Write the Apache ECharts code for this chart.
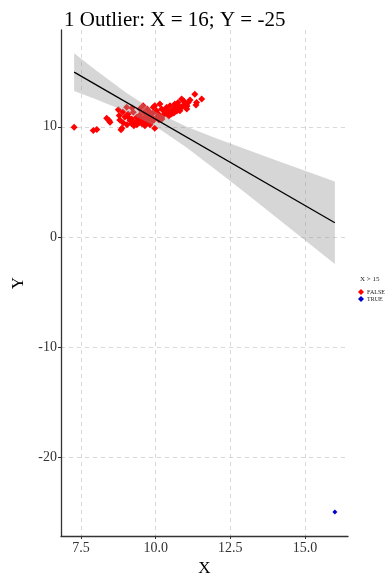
<!DOCTYPE html>
<html>
<head>
<meta charset="utf-8">
<script src="https://cdn.jsdelivr.net/npm/echarts@6/dist/echarts.min.js"></script>
<style>html,body{margin:0;padding:0;background:#fff}#c{width:390px;height:582px}</style>
</head>
<body>
<div id="c"></div>
<script>
// ---- data ----
const titleText = '1 Outlier: X = 16; Y = -25';
const xTicks = [7.5, 10, 12.5, 15];
const yTicks = [-20, -10, 0, 10];
const falseX = [7.27,7.91,8.03,8.36,8.47,8.44,8.75,8.78,8.80,8.84,8.87,8.91,9.03,9.08,9.14,9.20,9.20,9.25,9.31,9.36,9.42,9.47,9.53,9.58,9.61,9.64,9.67,9.72,9.75,9.81,9.86,9.92,9.97,9.97,10.03,10.09,10.14,10.20,10.25,10.31,10.37,10.42,10.48,10.53,10.59,10.64,10.70,10.75,10.81,10.87,10.92,10.98,11.04,11.09,11.31,11.37,11.35,11.54,8.97,9.04,9.11,9.27,9.37,9.44,9.54,9.61,9.71,9.77,9.87,9.94,9.81,10.04,10.11,10.14,10.21,10.28,10.38,10.44,10.54,10.61,10.71,10.78,10.88,10.94,11.05,11.15,9.64,9.91,9.47,9.21,8.90];
const falseY = [9.97,9.67,9.76,10.78,10.42,10.58,11.55,11.02,10.63,9.73,9.87,10.36,11.77,11.17,10.57,10.72,10.27,11.32,10.42,10.87,10.57,11.08,10.78,11.91,11.32,10.87,10.57,11.62,11.17,11.32,10.87,11.77,11.91,9.88,11.46,11.17,12.07,11.62,11.02,11.32,11.77,11.46,11.91,11.17,11.62,12.07,11.77,12.22,11.46,12.52,11.91,12.07,11.62,12.22,12.96,12.22,11.98,12.52,10.90,10.18,10.81,10.09,10.18,10.36,10.27,10.45,10.36,10.72,10.45,10.63,10.18,10.90,10.63,10.99,10.72,11.53,11.26,10.99,11.44,11.26,11.44,11.89,11.80,12.34,11.89,12.43,10.09,11.26,11.62,11.71,11.35];
const trueX = [16];
const trueY = [-25];
const lineX = [7.27, 16];
const lineY = [14.97, 1.28];
const bandX = [7.27, 8, 9, 10, 11, 12, 13, 14, 15, 16];
const bandUpper = [16.69, 15.15, 13.12, 11.36, 10.06, 8.98, 7.98, 6.98, 6.00, 5.02];
const bandLower = [13.25, 12.51, 11.40, 10.02, 8.18, 6.12, 4.00, 1.86, -0.30, -2.46];

const font = 'Liberation Serif';
const chart = echarts.init(document.getElementById('c'), null, {renderer: 'canvas'});
chart.setOption({
  animation: false,
  backgroundColor: '#fff',
  title: [
    {text: titleText, left: 59, top: 5, textStyle: {fontFamily: font, fontSize: 21, fontWeight: 'normal', color: '#000'}},
    {text: 'X > 15', left: 355, top: 271, textStyle: {fontFamily: font, fontSize: 7, fontWeight: 'normal', color: '#222'}}
  ],
  legend: {
    data: [{name: 'FALSE', icon: 'diamond'}, {name: 'TRUE', icon: 'diamond'}],
    orient: 'vertical', left: 353, top: 284, itemWidth: 6, itemHeight: 6, itemGap: 1,
    textStyle: {fontFamily: font, fontSize: 6, color: '#222', padding: [0,0,0,-2]}
  },
  grid: {left: 61, right: 42, top: 30, bottom: 40},
  xAxis: {
    type: 'value', min: 6.83, max: 16.44,
    name: 'X', nameLocation: 'middle', nameGap: 24,
    nameTextStyle: {fontFamily: font, fontSize: 17, color: '#000'},
    axisLine: {show: true, onZero: false, lineStyle: {color: '#333', width: 1.3}},
    axisTick: {show: true, length: 3, customValues: xTicks, lineStyle: {color: '#333'}},
    axisLabel: {customValues: xTicks, margin: 5, fontFamily: font, fontSize: 14, color: '#333', formatter: v => v.toFixed(1)},
    splitLine: {show: true, lineStyle: {color: '#cfcfcf', type: [4, 4], width: 0.8}}
  },
  yAxis: {
    type: 'value', min: -27.19, max: 18.8,
    name: 'Y', nameLocation: 'middle', nameGap: 33, nameRotate: 90,
    nameTextStyle: {fontFamily: font, fontSize: 17, color: '#000'},
    axisLine: {show: true, onZero: false, lineStyle: {color: '#333', width: 1.3}},
    axisTick: {show: true, length: 3, customValues: yTicks, lineStyle: {color: '#333'}},
    axisLabel: {customValues: yTicks, margin: 4, fontFamily: font, fontSize: 14, color: '#333'},
    splitLine: {show: true, lineStyle: {color: '#cfcfcf', type: [4, 4], width: 0.8}}
  },
  series: [
    {name: 'FALSE', type: 'scatter', symbol: 'diamond', symbolSize: 7, itemStyle: {color: '#FF0000', opacity: 1},
     data: falseX.map((x, i) => [x, falseY[i]]), z: 2},
    {name: 'TRUE', type: 'scatter', symbol: 'diamond', symbolSize: 5, itemStyle: {color: '#0000CD', opacity: 1},
     data: trueX.map((x, i) => [x, trueY[i]]), z: 2},
    {type: 'custom', z: 3, silent: true,
     data: [[bandX[0], bandUpper[0]]],
     renderItem: function (params, api) {
       const pts = [];
       for (let i = 0; i < bandX.length; i++) pts.push(api.coord([bandX[i], bandUpper[i]]));
       for (let i = bandX.length - 1; i >= 0; i--) pts.push(api.coord([bandX[i], bandLower[i]]));
       return {type: 'polygon', shape: {points: pts}, style: {fill: 'rgba(153,153,153,0.4)'}};
     }},
    {type: 'line', z: 4, showSymbol: false, silent: true,
     data: lineX.map((x, i) => [x, lineY[i]]), lineStyle: {color: '#000', width: 1.3}}
  ]
});
</script>
</body>
</html>
